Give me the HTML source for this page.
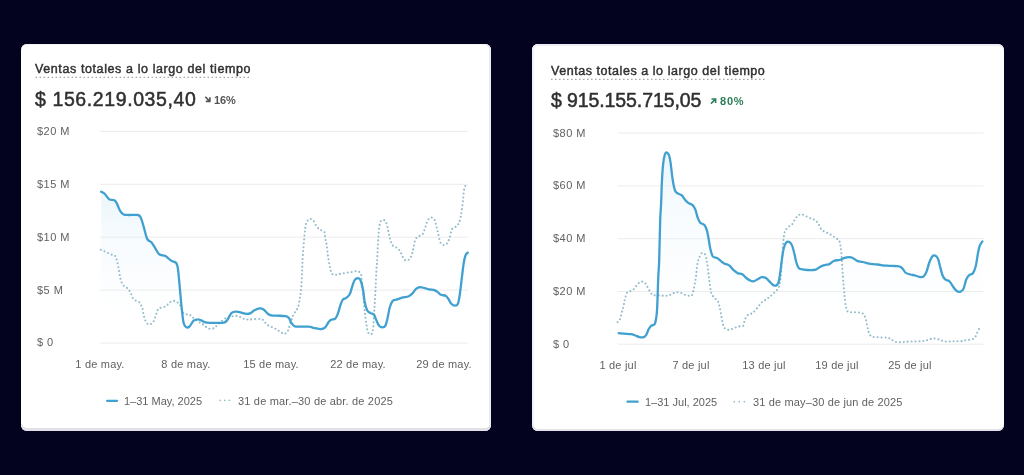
<!DOCTYPE html>
<html><head><meta charset="utf-8">
<style>
html,body{margin:0;padding:0;}
body{width:1024px;height:475px;overflow:hidden;background:#04031f;position:relative;font-family:"Liberation Sans",sans-serif;}
.card{position:absolute;background:#ffffff;border-radius:6px;}
.t{position:absolute;white-space:nowrap;will-change:transform;}
.ov{position:absolute;left:0;top:0;}
#wrap{position:absolute;left:0;top:0;width:1024px;height:475px;background:#04031f;}
</style></head><body>
<div id="wrap">
<div class="card" style="left:20.5px;top:43.8px;width:470.3px;height:387.2px;box-shadow:inset 0 -3px 0 #e1e1e7, inset -2px 0 0 #ebebf1, inset 0 1px 0 #f3f3f7;"></div>
<div class="card" style="left:532px;top:43.8px;width:471.5px;height:387.2px;box-shadow:inset 0 -2px 0 #e3e3e9, inset 2px 0 0 #f0f0f5, inset 0 2px 0 #ededf3;"></div>
<svg class="ov" width="1024" height="475" viewBox="0 0 1024 475">
<defs>
<linearGradient id="g1" x1="0" y1="0" x2="0" y2="1"><stop offset="0" stop-color="#e6f3fb" stop-opacity="0.75"/><stop offset="1" stop-color="#ffffff" stop-opacity="0"/></linearGradient>
<linearGradient id="g2" x1="0" y1="0" x2="0" y2="1"><stop offset="0" stop-color="#e6f3fb" stop-opacity="0.75"/><stop offset="1" stop-color="#ffffff" stop-opacity="0"/></linearGradient>
</defs>
<!-- dotted underlines -->
<line x1="35.5" y1="77.4" x2="251" y2="77.4" stroke="#a8a8a8" stroke-width="1.3" stroke-dasharray="1.6 2.4"/>
<line x1="551" y1="79.4" x2="766" y2="79.4" stroke="#a8a8a8" stroke-width="1.3" stroke-dasharray="1.6 2.4"/>
<!-- trend arrows -->
<path d="M205.3,96.8 L209.6,101.1 M209.9,97.3 L209.9,101.4 L205.8,101.4" fill="none" stroke="#555555" stroke-width="1.6"/>
<path d="M711.0,103.6 L715.3,99.3 M711.5,99.0 L715.6,99.0 L715.6,103.1" fill="none" stroke="#2d7d5a" stroke-width="1.6"/>
<path d="M101.2,191.7 C101.8,192.1 103.8,193.0 105.1,194.3 C106.4,195.6 107.8,198.4 109.3,199.4 C110.8,200.4 113.1,199.5 114.4,200.2 C115.7,200.9 115.9,201.8 116.9,203.6 C117.9,205.4 119.2,209.4 120.3,211.2 C121.4,213.0 122.2,213.9 123.6,214.5 C125.0,215.1 126.4,214.9 128.7,215.0 C130.9,215.1 135.1,214.6 137.1,214.9 C139.1,215.2 139.4,214.9 140.5,217.0 C141.6,219.1 142.7,223.5 143.8,227.2 C144.9,230.8 145.9,236.4 147.2,238.9 C148.5,241.4 150.1,240.9 151.4,242.3 C152.7,243.7 153.5,245.4 154.8,247.4 C156.1,249.4 157.3,252.7 159.0,254.1 C160.7,255.5 163.3,255.1 164.9,255.8 C166.5,256.5 167.3,257.5 168.4,258.4 C169.5,259.2 170.4,260.2 171.7,260.9 C172.9,261.6 174.9,261.6 175.9,262.6 C176.9,263.6 177.1,264.4 177.6,266.8 C178.1,269.2 178.4,272.7 178.8,276.9 C179.2,281.1 179.7,286.8 180.2,292.1 C180.7,297.4 181.2,303.8 181.8,308.9 C182.4,313.9 182.8,319.4 183.5,322.4 C184.2,325.4 185.1,326.4 186.1,327.1 C187.1,327.8 188.2,327.7 189.4,326.6 C190.7,325.5 192.2,321.9 193.6,320.7 C195.0,319.5 196.5,319.4 197.8,319.4 C199.1,319.3 199.9,319.9 201.2,320.4 C202.5,320.9 203.8,322.0 205.4,322.4 C207.0,322.8 208.8,322.8 210.5,322.9 C212.2,323.0 213.3,322.9 215.5,322.9 C217.7,322.9 221.7,323.1 223.6,322.7 C225.5,322.3 225.9,321.7 226.9,320.6 C227.9,319.5 228.7,317.3 229.5,316.0 C230.3,314.7 231.0,313.3 232.0,312.6 C233.0,311.9 234.1,311.7 235.4,311.6 C236.7,311.5 238.0,311.9 239.6,312.2 C241.2,312.5 243.3,313.5 245.1,313.7 C246.9,313.9 248.6,313.9 250.2,313.3 C251.8,312.7 252.9,311.1 254.4,310.3 C255.9,309.5 257.9,308.4 259.4,308.3 C260.9,308.2 262.2,308.6 263.6,309.5 C265.0,310.4 266.5,312.7 267.8,313.7 C269.1,314.7 269.6,315.1 271.2,315.4 C272.8,315.7 274.7,315.6 277.1,315.7 C279.5,315.8 283.5,315.8 285.5,316.2 C287.5,316.6 287.9,316.8 288.9,317.9 C289.9,319.0 290.4,321.5 291.4,322.9 C292.4,324.3 293.0,325.7 294.8,326.3 C296.6,326.9 300.0,326.6 302.4,326.7 C304.8,326.8 307.0,326.4 309.1,326.7 C311.2,326.9 313.1,327.8 315.1,328.2 C317.1,328.6 319.2,329.2 320.9,329.1 C322.6,329.0 323.9,328.5 325.2,327.4 C326.5,326.3 327.5,323.6 328.5,322.3 C329.5,321.0 330.0,320.4 331.1,319.8 C332.2,319.2 334.2,319.6 335.3,318.6 C336.4,317.6 337.0,316.1 337.8,313.9 C338.6,311.7 339.5,307.9 340.3,305.5 C341.1,303.1 341.8,300.9 342.8,299.6 C343.8,298.3 345.1,298.8 346.2,297.9 C347.3,297.0 348.6,296.3 349.6,294.5 C350.6,292.7 351.3,289.3 352.1,286.9 C352.9,284.5 353.6,281.6 354.6,280.2 C355.6,278.8 357.0,278.2 358.0,278.2 C359.0,278.2 359.6,278.2 360.5,280.2 C361.4,282.2 362.4,286.6 363.1,290.3 C363.8,294.0 364.0,298.7 364.7,302.1 C365.4,305.5 366.3,308.7 367.3,310.5 C368.3,312.3 369.5,312.4 370.6,313.1 C371.7,313.8 373.0,313.4 374.0,314.7 C375.0,315.9 375.6,318.8 376.5,320.6 C377.4,322.4 378.1,324.6 379.1,325.7 C380.1,326.8 381.3,327.4 382.4,327.4 C383.4,327.4 384.5,327.3 385.4,325.6 C386.3,323.9 387.1,320.0 387.8,317.0 C388.5,314.0 388.9,310.2 389.7,307.5 C390.5,304.8 391.5,302.2 392.6,300.9 C393.7,299.6 394.8,300.1 396.4,299.6 C398.0,299.1 400.1,298.3 402.1,297.7 C404.2,297.1 407.0,296.9 408.7,296.2 C410.4,295.5 411.2,294.6 412.5,293.3 C413.8,292.0 415.0,289.6 416.3,288.6 C417.6,287.6 418.7,287.2 420.1,287.1 C421.5,287.0 423.2,287.8 424.8,288.2 C426.4,288.6 427.9,289.2 429.5,289.5 C431.1,289.8 432.9,289.6 434.3,290.1 C435.7,290.6 437.0,291.6 438.1,292.4 C439.2,293.2 439.6,294.2 440.9,294.8 C442.1,295.4 444.3,295.1 445.6,295.8 C446.9,296.5 447.6,297.7 448.5,299.0 C449.4,300.3 450.2,302.6 451.3,303.7 C452.4,304.8 454.0,305.6 455.1,305.6 C456.2,305.6 457.1,305.6 457.9,303.7 C458.7,301.8 459.2,298.4 459.8,294.3 C460.4,290.2 461.1,284.2 461.7,279.1 C462.3,274.0 463.0,267.8 463.6,263.9 C464.2,259.9 464.8,257.3 465.5,255.4 C466.2,253.5 467.4,253.1 467.8,252.6 L467.8,343.0 L101.2,343.0 Z" fill="url(#g1)"/>
<line x1="99.5" y1="131.4" x2="468.3" y2="131.4" stroke="#ececec" stroke-width="1"/>
<line x1="99.5" y1="184.3" x2="468.3" y2="184.3" stroke="#ececec" stroke-width="1"/>
<line x1="99.5" y1="237.2" x2="468.3" y2="237.2" stroke="#ececec" stroke-width="1"/>
<line x1="99.5" y1="290.1" x2="468.3" y2="290.1" stroke="#ececec" stroke-width="1"/>
<line x1="99.5" y1="343.0" x2="468.3" y2="343.0" stroke="#ececec" stroke-width="1"/>
<path d="M100.9,249.8 C101.6,250.1 103.4,250.7 105.1,251.5 C106.8,252.3 109.3,253.7 111.0,254.4 C112.7,255.2 114.2,255.0 115.2,256.0 C116.2,257.0 116.3,258.2 116.9,260.3 C117.5,262.4 118.0,265.8 118.6,268.7 C119.2,271.6 119.6,275.3 120.3,278.0 C121.0,280.7 121.7,283.0 122.8,284.7 C123.9,286.4 125.7,286.7 127.0,288.0 C128.3,289.3 129.4,290.6 130.4,292.3 C131.4,294.0 131.9,296.8 132.9,298.2 C133.9,299.6 135.1,300.1 136.3,300.9 C137.5,301.7 139.2,302.0 140.1,303.0 C141.0,304.0 141.2,305.5 141.7,306.7 C142.2,307.9 142.7,308.9 143.0,310.2 C143.3,311.5 143.1,313.1 143.4,314.4 C143.7,315.7 144.3,317.0 144.7,318.2 C145.1,319.4 145.2,320.8 145.9,321.8 C146.6,322.9 147.8,324.3 148.9,324.5 C150.0,324.7 151.8,323.7 152.7,322.8 C153.6,321.9 153.9,320.6 154.4,319.3 C154.9,318.1 155.5,316.6 155.9,315.3 C156.3,314.0 156.6,312.9 157.1,311.7 C157.6,310.5 158.0,309.1 159.0,308.4 C160.0,307.7 161.9,307.8 163.2,307.3 C164.5,306.8 165.5,306.4 166.6,305.6 C167.7,304.8 168.4,303.4 169.5,302.6 C170.6,301.8 172.1,301.0 173.4,300.9 C174.7,300.8 176.0,301.4 177.1,302.2 C178.2,303.0 179.1,303.8 180.2,305.6 C181.3,307.4 182.2,311.7 183.5,313.2 C184.8,314.7 186.4,314.1 187.7,314.5 C189.0,314.9 190.0,314.9 191.1,315.7 C192.2,316.5 193.1,318.0 194.5,319.1 C195.9,320.2 198.1,321.5 199.5,322.4 C200.9,323.3 201.8,323.6 202.9,324.4 C204.0,325.1 204.8,326.2 205.9,326.9 C207.0,327.6 208.4,328.6 209.7,328.8 C211.0,329.0 212.7,328.7 213.9,328.2 C215.1,327.7 215.6,326.8 216.8,325.7 C218.0,324.6 219.5,322.8 221.0,321.5 C222.5,320.2 224.5,318.8 226.0,318.0 C227.5,317.2 228.7,316.8 230.0,316.5 C231.3,316.2 232.8,316.3 234.1,316.2 C235.4,316.1 236.6,315.7 237.9,316.0 C239.2,316.3 240.4,317.2 241.7,317.8 C243.0,318.4 244.2,319.1 245.5,319.4 C246.8,319.7 247.9,319.5 249.2,319.5 C250.5,319.5 251.7,319.3 253.5,319.2 C255.3,319.1 258.6,318.9 260.3,319.1 C262.0,319.3 262.5,319.5 263.6,320.4 C264.7,321.3 265.6,323.5 267.0,324.6 C268.4,325.7 270.4,326.4 272.1,327.2 C273.8,328.0 275.6,328.8 277.1,329.7 C278.6,330.6 280.0,331.8 281.3,332.5 C282.6,333.2 283.6,334.2 284.7,333.9 C285.8,333.6 287.3,331.9 288.1,330.5 C288.9,329.1 289.1,327.2 289.7,325.5 C290.2,323.8 290.8,322.1 291.4,320.4 C292.0,318.7 292.4,316.9 293.1,315.4 C293.8,313.9 294.8,312.6 295.6,311.2 C296.5,309.8 297.5,309.0 298.2,306.9 C298.9,304.8 299.3,301.3 299.8,298.5 C300.3,295.7 300.6,294.5 301.0,290.1 C301.4,285.8 301.8,277.6 302.1,272.4 C302.4,267.2 302.4,263.1 302.6,258.9 C302.8,254.7 303.2,250.8 303.5,247.1 C303.8,243.4 304.0,240.1 304.3,237.0 C304.6,233.9 304.8,231.1 305.2,228.6 C305.6,226.1 306.0,223.4 306.8,221.8 C307.6,220.2 308.8,218.9 309.9,218.8 C311.0,218.7 312.4,219.7 313.6,221.0 C314.8,222.3 315.6,225.3 316.9,226.9 C318.2,228.5 319.9,229.4 321.2,230.3 C322.5,231.2 323.8,230.9 324.5,232.3 C325.2,233.7 325.0,236.5 325.4,238.7 C325.8,240.9 326.3,242.6 326.7,245.4 C327.1,248.2 327.4,252.1 327.9,255.5 C328.4,258.9 329.0,262.8 329.6,265.6 C330.2,268.4 330.6,270.8 331.3,272.4 C332.0,273.9 332.6,274.6 333.8,274.9 C335.1,275.2 336.8,274.4 338.8,274.1 C340.8,273.8 343.4,273.2 345.6,272.9 C347.9,272.5 350.3,272.3 352.3,272.0 C354.3,271.7 356.0,271.0 357.4,271.2 C358.8,271.4 360.0,272.3 360.7,273.2 C361.4,274.1 361.0,273.4 361.4,276.8 C361.8,280.2 362.6,288.1 363.1,293.7 C363.7,299.3 364.1,305.4 364.7,310.5 C365.2,315.6 365.8,320.4 366.4,324.0 C367.0,327.6 367.2,330.7 368.1,332.4 C369.0,334.1 370.6,334.9 371.5,334.1 C372.4,333.3 372.8,330.5 373.2,327.4 C373.6,324.3 373.7,319.8 374.0,315.6 C374.3,311.4 374.5,307.2 374.8,302.1 C375.1,297.1 375.4,290.9 375.7,285.3 C376.0,279.7 376.3,272.2 376.5,268.4 C376.7,264.6 376.9,265.3 377.1,262.3 C377.3,259.3 377.4,254.7 377.6,250.5 C377.8,246.3 378.1,240.9 378.4,237.0 C378.7,233.1 378.9,229.6 379.3,226.9 C379.7,224.2 380.1,222.1 380.9,221.0 C381.7,219.9 383.3,219.6 384.3,220.2 C385.3,220.8 386.1,222.4 386.8,224.4 C387.5,226.4 387.9,229.5 388.5,232.0 C389.1,234.5 389.5,237.3 390.2,239.6 C390.9,241.8 391.6,244.1 392.7,245.5 C393.8,246.9 395.6,247.0 396.9,248.0 C398.2,249.0 399.3,249.8 400.3,251.4 C401.3,253.0 401.8,255.8 402.8,257.3 C403.8,258.8 404.9,260.5 406.2,260.6 C407.5,260.7 409.3,259.8 410.4,258.1 C411.5,256.4 412.1,253.5 412.9,250.5 C413.7,247.5 414.3,242.2 415.2,239.9 C416.1,237.6 417.2,237.5 418.5,236.5 C419.8,235.5 421.6,235.5 422.7,234.0 C423.8,232.5 424.4,229.6 425.3,227.3 C426.2,225.0 426.8,221.8 427.8,220.2 C428.8,218.6 430.1,217.6 431.2,217.5 C432.3,217.4 433.7,218.3 434.5,219.7 C435.3,221.0 435.6,223.5 436.2,225.6 C436.8,227.7 437.2,229.5 437.9,232.3 C438.6,235.1 439.4,240.3 440.4,242.4 C441.4,244.5 442.7,244.8 443.8,245.0 C444.9,245.2 446.2,244.6 447.2,243.3 C448.2,242.0 448.9,239.8 449.7,237.4 C450.5,235.0 451.1,230.7 452.2,228.9 C453.3,227.1 455.3,227.4 456.4,226.4 C457.5,225.4 458.2,224.6 458.9,223.1 C459.6,221.6 460.1,219.6 460.6,217.2 C461.1,214.8 461.6,211.8 462.0,208.7 C462.4,205.6 462.9,201.7 463.2,198.6 C463.5,195.5 463.6,192.3 464.0,190.2 C464.4,188.1 464.8,187.1 465.3,186.0 C465.8,184.9 466.7,183.9 467.0,183.5" fill="none" stroke="#93bccb" stroke-width="2.1" stroke-linecap="round" stroke-dasharray="0 3.9"/>
<path d="M101.2,191.7 C101.8,192.1 103.8,193.0 105.1,194.3 C106.4,195.6 107.8,198.4 109.3,199.4 C110.8,200.4 113.1,199.5 114.4,200.2 C115.7,200.9 115.9,201.8 116.9,203.6 C117.9,205.4 119.2,209.4 120.3,211.2 C121.4,213.0 122.2,213.9 123.6,214.5 C125.0,215.1 126.4,214.9 128.7,215.0 C130.9,215.1 135.1,214.6 137.1,214.9 C139.1,215.2 139.4,214.9 140.5,217.0 C141.6,219.1 142.7,223.5 143.8,227.2 C144.9,230.8 145.9,236.4 147.2,238.9 C148.5,241.4 150.1,240.9 151.4,242.3 C152.7,243.7 153.5,245.4 154.8,247.4 C156.1,249.4 157.3,252.7 159.0,254.1 C160.7,255.5 163.3,255.1 164.9,255.8 C166.5,256.5 167.3,257.5 168.4,258.4 C169.5,259.2 170.4,260.2 171.7,260.9 C172.9,261.6 174.9,261.6 175.9,262.6 C176.9,263.6 177.1,264.4 177.6,266.8 C178.1,269.2 178.4,272.7 178.8,276.9 C179.2,281.1 179.7,286.8 180.2,292.1 C180.7,297.4 181.2,303.8 181.8,308.9 C182.4,313.9 182.8,319.4 183.5,322.4 C184.2,325.4 185.1,326.4 186.1,327.1 C187.1,327.8 188.2,327.7 189.4,326.6 C190.7,325.5 192.2,321.9 193.6,320.7 C195.0,319.5 196.5,319.4 197.8,319.4 C199.1,319.3 199.9,319.9 201.2,320.4 C202.5,320.9 203.8,322.0 205.4,322.4 C207.0,322.8 208.8,322.8 210.5,322.9 C212.2,323.0 213.3,322.9 215.5,322.9 C217.7,322.9 221.7,323.1 223.6,322.7 C225.5,322.3 225.9,321.7 226.9,320.6 C227.9,319.5 228.7,317.3 229.5,316.0 C230.3,314.7 231.0,313.3 232.0,312.6 C233.0,311.9 234.1,311.7 235.4,311.6 C236.7,311.5 238.0,311.9 239.6,312.2 C241.2,312.5 243.3,313.5 245.1,313.7 C246.9,313.9 248.6,313.9 250.2,313.3 C251.8,312.7 252.9,311.1 254.4,310.3 C255.9,309.5 257.9,308.4 259.4,308.3 C260.9,308.2 262.2,308.6 263.6,309.5 C265.0,310.4 266.5,312.7 267.8,313.7 C269.1,314.7 269.6,315.1 271.2,315.4 C272.8,315.7 274.7,315.6 277.1,315.7 C279.5,315.8 283.5,315.8 285.5,316.2 C287.5,316.6 287.9,316.8 288.9,317.9 C289.9,319.0 290.4,321.5 291.4,322.9 C292.4,324.3 293.0,325.7 294.8,326.3 C296.6,326.9 300.0,326.6 302.4,326.7 C304.8,326.8 307.0,326.4 309.1,326.7 C311.2,326.9 313.1,327.8 315.1,328.2 C317.1,328.6 319.2,329.2 320.9,329.1 C322.6,329.0 323.9,328.5 325.2,327.4 C326.5,326.3 327.5,323.6 328.5,322.3 C329.5,321.0 330.0,320.4 331.1,319.8 C332.2,319.2 334.2,319.6 335.3,318.6 C336.4,317.6 337.0,316.1 337.8,313.9 C338.6,311.7 339.5,307.9 340.3,305.5 C341.1,303.1 341.8,300.9 342.8,299.6 C343.8,298.3 345.1,298.8 346.2,297.9 C347.3,297.0 348.6,296.3 349.6,294.5 C350.6,292.7 351.3,289.3 352.1,286.9 C352.9,284.5 353.6,281.6 354.6,280.2 C355.6,278.8 357.0,278.2 358.0,278.2 C359.0,278.2 359.6,278.2 360.5,280.2 C361.4,282.2 362.4,286.6 363.1,290.3 C363.8,294.0 364.0,298.7 364.7,302.1 C365.4,305.5 366.3,308.7 367.3,310.5 C368.3,312.3 369.5,312.4 370.6,313.1 C371.7,313.8 373.0,313.4 374.0,314.7 C375.0,315.9 375.6,318.8 376.5,320.6 C377.4,322.4 378.1,324.6 379.1,325.7 C380.1,326.8 381.3,327.4 382.4,327.4 C383.4,327.4 384.5,327.3 385.4,325.6 C386.3,323.9 387.1,320.0 387.8,317.0 C388.5,314.0 388.9,310.2 389.7,307.5 C390.5,304.8 391.5,302.2 392.6,300.9 C393.7,299.6 394.8,300.1 396.4,299.6 C398.0,299.1 400.1,298.3 402.1,297.7 C404.2,297.1 407.0,296.9 408.7,296.2 C410.4,295.5 411.2,294.6 412.5,293.3 C413.8,292.0 415.0,289.6 416.3,288.6 C417.6,287.6 418.7,287.2 420.1,287.1 C421.5,287.0 423.2,287.8 424.8,288.2 C426.4,288.6 427.9,289.2 429.5,289.5 C431.1,289.8 432.9,289.6 434.3,290.1 C435.7,290.6 437.0,291.6 438.1,292.4 C439.2,293.2 439.6,294.2 440.9,294.8 C442.1,295.4 444.3,295.1 445.6,295.8 C446.9,296.5 447.6,297.7 448.5,299.0 C449.4,300.3 450.2,302.6 451.3,303.7 C452.4,304.8 454.0,305.6 455.1,305.6 C456.2,305.6 457.1,305.6 457.9,303.7 C458.7,301.8 459.2,298.4 459.8,294.3 C460.4,290.2 461.1,284.2 461.7,279.1 C462.3,274.0 463.0,267.8 463.6,263.9 C464.2,259.9 464.8,257.3 465.5,255.4 C466.2,253.5 467.4,253.1 467.8,252.6" fill="none" stroke="#40a0cf" stroke-width="2.3" stroke-linejoin="round" stroke-linecap="round"/>
<path d="M618.7,333.1 C619.5,333.2 621.4,333.4 623.5,333.6 C625.6,333.8 629.1,333.8 631.1,334.1 C633.1,334.4 633.9,335.0 635.3,335.5 C636.7,336.0 638.1,336.8 639.5,337.1 C640.9,337.4 642.6,337.5 643.7,337.1 C644.8,336.8 645.4,336.3 646.2,335.0 C647.0,333.7 647.9,330.7 648.7,329.1 C649.6,327.6 650.3,326.5 651.3,325.7 C652.3,324.9 653.8,325.7 654.6,324.3 C655.4,322.9 655.9,320.2 656.3,317.3 C656.7,314.4 657.0,311.1 657.2,307.2 C657.4,303.3 657.5,298.8 657.7,293.7 C657.9,288.6 658.0,282.4 658.3,276.8 C658.5,271.2 658.9,269.5 659.2,260.0 C659.5,250.5 659.9,229.3 660.2,220.0 C660.5,210.7 660.8,210.3 661.1,204.0 C661.4,197.7 661.5,188.8 661.9,182.1 C662.2,175.4 662.7,168.2 663.2,163.6 C663.7,159.0 664.3,156.2 664.9,154.3 C665.5,152.4 665.9,152.2 666.6,152.4 C667.3,152.6 668.3,153.3 669.0,155.2 C669.7,157.1 670.2,159.9 670.7,163.6 C671.2,167.2 671.8,173.4 672.3,177.1 C672.8,180.8 673.2,183.1 673.7,185.5 C674.2,187.9 674.6,190.0 675.4,191.4 C676.2,192.8 677.6,193.2 678.7,193.9 C679.8,194.6 681.0,194.5 682.1,195.6 C683.2,196.7 684.4,199.1 685.5,200.3 C686.6,201.6 687.4,202.3 688.6,203.1 C689.8,203.9 691.5,204.0 692.6,205.1 C693.7,206.2 694.5,207.5 695.4,209.6 C696.2,211.7 696.9,215.5 697.7,217.7 C698.5,219.9 699.1,221.5 700.2,222.7 C701.3,223.9 703.3,223.6 704.4,224.9 C705.5,226.2 706.2,228.0 706.9,230.3 C707.6,232.6 708.0,235.6 708.6,238.7 C709.2,241.8 709.6,245.9 710.3,248.8 C711.0,251.8 711.7,254.8 712.8,256.4 C713.9,257.9 715.8,257.4 717.1,258.1 C718.4,258.8 719.2,259.7 720.4,260.6 C721.6,261.5 722.7,262.7 724.2,263.5 C725.7,264.3 727.6,264.2 729.2,265.4 C730.8,266.5 732.4,269.1 733.9,270.4 C735.4,271.7 736.7,272.8 738.1,273.4 C739.5,274.0 740.9,273.4 742.3,274.2 C743.7,275.0 745.0,276.9 746.3,278.0 C747.6,279.1 748.8,279.9 750.0,280.5 C751.2,281.1 752.1,281.6 753.4,281.4 C754.7,281.2 756.2,279.9 757.6,279.2 C759.0,278.5 760.4,277.4 761.8,277.2 C763.2,277.0 764.7,277.3 766.0,278.0 C767.3,278.7 768.3,280.3 769.4,281.4 C770.5,282.5 771.6,284.0 772.7,284.7 C773.8,285.4 775.1,286.0 776.1,285.6 C777.1,285.2 777.9,284.4 778.6,282.2 C779.3,279.9 779.7,276.0 780.3,272.1 C780.9,268.2 781.4,262.5 782.0,258.6 C782.6,254.7 783.0,251.2 783.7,248.5 C784.4,245.8 785.2,243.7 786.2,242.6 C787.2,241.5 788.5,241.5 789.5,242.0 C790.5,242.5 791.2,243.6 792.0,245.4 C792.8,247.2 793.5,250.1 794.2,253.0 C795.0,255.9 795.7,260.4 796.5,263.0 C797.3,265.6 797.8,267.3 799.0,268.4 C800.2,269.5 802.0,269.3 803.9,269.6 C805.8,269.9 808.6,270.1 810.6,270.1 C812.6,270.1 814.3,270.1 815.7,269.6 C817.1,269.2 817.8,268.1 819.1,267.4 C820.4,266.7 821.9,265.9 823.5,265.4 C825.1,264.9 827.4,264.6 828.5,264.3 C829.6,264.0 829.0,264.3 830.0,263.7 C831.0,263.1 832.7,261.3 834.2,260.7 C835.8,260.1 837.8,260.4 839.3,260.0 C840.8,259.6 842.2,258.8 843.5,258.3 C844.8,257.9 845.5,257.5 846.8,257.3 C848.1,257.1 849.8,257.0 851.1,257.3 C852.4,257.6 853.3,258.4 854.4,259.0 C855.5,259.6 856.4,260.7 857.8,261.2 C859.2,261.7 861.1,261.6 862.8,262.0 C864.5,262.4 866.2,262.9 867.9,263.3 C869.6,263.7 871.2,264.0 872.9,264.2 C874.6,264.4 876.5,264.3 878.0,264.5 C879.5,264.7 880.7,265.2 882.2,265.4 C883.8,265.6 885.6,265.6 887.3,265.7 C889.0,265.8 890.6,265.8 892.3,265.9 C894.0,266.0 896.0,266.0 897.4,266.2 C898.8,266.4 899.7,266.5 900.7,267.1 C901.7,267.7 902.4,268.6 903.3,269.6 C904.1,270.6 904.6,272.1 905.8,272.9 C907.0,273.7 908.8,274.1 910.4,274.5 C912.0,274.9 913.6,275.1 915.2,275.5 C916.8,275.9 918.5,276.9 919.9,277.0 C921.3,277.1 922.6,277.3 923.7,276.4 C924.8,275.5 925.5,274.1 926.5,271.7 C927.5,269.3 928.4,264.7 929.4,262.2 C930.4,259.7 931.2,257.6 932.2,256.5 C933.2,255.4 934.2,255.3 935.1,255.6 C936.0,255.9 937.0,256.5 937.9,258.4 C938.8,260.3 939.4,264.0 940.2,266.9 C941.0,269.8 941.7,273.4 942.6,275.5 C943.5,277.6 944.3,278.6 945.5,279.6 C946.7,280.6 948.3,280.3 949.6,281.5 C950.9,282.7 951.9,285.2 953.1,286.8 C954.3,288.4 955.5,290.2 956.8,291.0 C958.0,291.8 959.5,292.0 960.6,291.6 C961.7,291.2 962.5,290.8 963.5,288.7 C964.5,286.6 965.3,281.6 966.3,279.3 C967.2,277.0 968.1,276.1 969.2,275.1 C970.3,274.1 971.8,274.7 972.9,273.2 C974.0,271.7 975.0,269.1 975.8,266.0 C976.6,262.9 977.1,257.9 977.7,254.6 C978.3,251.3 978.8,248.3 979.6,246.1 C980.4,243.9 981.9,242.2 982.4,241.4 L982.4,344.2 L618.7,344.2 Z" fill="url(#g2)"/>
<line x1="617.8" y1="133.1" x2="983.5" y2="133.1" stroke="#ececec" stroke-width="1"/>
<line x1="617.8" y1="185.9" x2="983.5" y2="185.9" stroke="#ececec" stroke-width="1"/>
<line x1="617.8" y1="238.7" x2="983.5" y2="238.7" stroke="#ececec" stroke-width="1"/>
<line x1="617.8" y1="291.5" x2="983.5" y2="291.5" stroke="#ececec" stroke-width="1"/>
<line x1="617.8" y1="344.2" x2="983.5" y2="344.2" stroke="#ececec" stroke-width="1"/>
<path d="M617.6,322.3 C618.0,321.7 619.4,320.6 620.1,318.9 C620.8,317.2 621.2,314.3 621.8,312.2 C622.4,310.1 623.0,308.4 623.5,306.3 C624.0,304.2 624.4,301.4 624.8,299.6 C625.2,297.8 625.5,296.7 626.0,295.4 C626.5,294.1 626.9,292.8 627.7,292.0 C628.6,291.2 630.0,291.4 631.1,290.8 C632.2,290.2 633.4,289.6 634.4,288.6 C635.4,287.6 636.0,286.0 637.0,284.9 C638.0,283.8 639.2,282.4 640.3,281.9 C641.3,281.4 642.3,281.5 643.3,281.9 C644.3,282.3 645.4,283.4 646.2,284.4 C647.0,285.4 647.2,286.5 647.9,287.8 C648.6,289.1 649.6,290.8 650.4,292.0 C651.2,293.2 651.5,294.4 652.9,295.0 C654.3,295.6 656.8,295.3 658.8,295.4 C660.8,295.5 663.0,295.7 664.7,295.7 C666.4,295.7 667.6,295.7 668.9,295.4 C670.2,295.1 671.0,294.2 672.3,293.7 C673.6,293.2 675.1,292.4 676.5,292.3 C677.9,292.2 679.4,292.4 680.7,292.8 C682.0,293.2 682.9,294.0 684.2,294.5 C685.5,295.0 687.1,295.6 688.4,295.7 C689.7,295.8 690.9,296.3 691.8,295.4 C692.6,294.5 693.0,292.3 693.5,290.3 C694.0,288.3 694.4,285.9 694.8,283.6 C695.2,281.4 695.7,279.3 696.0,276.8 C696.3,274.3 696.5,270.9 696.8,268.4 C697.1,265.9 697.3,263.9 697.7,262.0 C698.1,260.1 698.7,258.8 699.4,257.3 C700.1,255.8 700.9,253.5 701.9,253.1 C702.9,252.7 704.5,253.3 705.3,254.7 C706.1,256.1 706.4,258.8 706.9,261.7 C707.4,264.6 707.9,268.4 708.3,271.8 C708.7,275.2 709.0,278.4 709.5,281.9 C710.0,285.4 710.4,290.1 711.2,292.8 C712.0,295.5 713.4,296.5 714.5,297.9 C715.6,299.3 717.0,299.8 717.9,301.3 C718.8,302.9 719.0,304.8 719.6,307.2 C720.2,309.6 720.8,312.8 721.3,315.6 C721.8,318.4 722.3,321.9 722.9,324.0 C723.5,326.1 723.6,327.2 724.6,328.2 C725.6,329.2 727.2,329.9 728.8,329.9 C730.3,329.9 732.2,328.8 733.9,328.2 C735.6,327.6 737.3,326.9 738.9,326.5 C740.5,326.1 742.2,326.8 743.2,325.7 C744.2,324.6 744.0,321.6 744.8,319.8 C745.6,318.0 746.9,315.8 748.2,314.7 C749.5,313.6 751.0,314.1 752.4,313.1 C753.8,312.1 755.0,310.6 756.6,308.8 C758.2,307.0 760.1,304.0 761.8,302.4 C763.5,300.8 765.1,300.4 766.8,299.1 C768.5,297.8 770.1,296.5 771.9,294.8 C773.7,293.1 776.4,291.3 777.8,288.9 C779.2,286.5 779.6,285.3 780.3,280.5 C781.0,275.7 781.5,266.6 782.0,260.3 C782.5,254.1 782.8,247.4 783.2,243.0 C783.6,238.6 783.8,236.0 784.3,233.8 C784.8,231.6 785.1,230.9 786.0,229.6 C786.9,228.3 788.3,227.2 789.4,226.2 C790.5,225.2 791.7,225.0 792.7,223.7 C793.7,222.4 794.4,219.9 795.3,218.6 C796.1,217.3 797.0,216.8 797.8,216.1 C798.6,215.4 799.2,214.5 800.3,214.4 C801.4,214.3 803.1,214.7 804.5,215.3 C805.9,215.9 807.3,217.2 808.7,217.8 C810.1,218.4 811.6,218.4 812.9,219.0 C814.2,219.6 815.3,220.3 816.3,221.2 C817.3,222.1 817.9,223.1 818.8,224.5 C819.6,225.9 820.3,228.3 821.4,229.6 C822.5,230.9 824.2,231.3 825.6,232.1 C827.0,232.8 828.5,233.4 829.8,234.1 C831.1,234.8 832.1,235.6 833.2,236.3 C834.3,237.0 835.5,237.8 836.5,238.5 C837.5,239.2 838.4,239.2 839.1,240.5 C839.8,241.8 840.1,243.9 840.5,246.0 C840.9,248.1 841.0,250.3 841.3,253.0 C841.5,255.7 841.8,258.8 842.0,262.0 C842.2,265.2 842.4,268.5 842.6,272.1 C842.9,275.8 843.2,280.4 843.5,283.9 C843.8,287.4 844.1,290.6 844.3,293.0 C844.5,295.4 844.5,296.1 844.8,298.4 C845.1,300.7 845.5,304.6 846.0,306.8 C846.5,309.0 846.7,310.7 847.7,311.6 C848.7,312.5 850.2,312.1 851.9,312.2 C853.6,312.3 856.0,312.2 857.8,312.4 C859.6,312.6 861.5,312.7 862.8,313.6 C864.1,314.5 864.7,315.8 865.4,317.8 C866.1,319.8 866.5,323.0 867.1,325.4 C867.7,327.8 868.0,330.3 868.7,332.1 C869.4,333.9 870.0,335.5 871.3,336.3 C872.6,337.1 874.5,337.0 876.3,337.2 C878.1,337.4 880.2,337.4 882.2,337.5 C884.2,337.6 886.6,337.3 888.1,337.7 C889.6,338.1 890.2,339.0 891.5,339.7 C892.8,340.4 894.0,341.5 895.7,341.9 C897.4,342.3 900.1,342.3 901.9,342.3 C903.7,342.3 904.3,341.8 906.3,341.7 C908.3,341.6 911.3,341.6 913.9,341.5 C916.5,341.4 920.1,341.2 922.1,341.1 C924.1,341.0 924.6,341.0 925.9,340.7 C927.2,340.4 928.4,339.6 929.7,339.2 C931.0,338.8 932.1,338.4 933.5,338.4 C934.9,338.4 936.5,338.8 937.9,339.2 C939.3,339.6 940.4,340.3 941.7,340.7 C943.0,341.1 943.6,341.4 945.5,341.5 C947.4,341.6 950.4,341.4 953.1,341.3 C955.8,341.2 959.8,341.3 961.9,341.1 C964.0,340.9 964.4,340.4 965.7,340.2 C967.0,340.0 968.2,340.0 969.5,339.8 C970.8,339.6 972.2,339.5 973.3,338.9 C974.4,338.3 975.2,337.1 975.9,336.0 C976.6,334.9 976.8,333.5 977.4,332.2 C978.0,330.9 979.2,328.7 979.6,328.0" fill="none" stroke="#93bccb" stroke-width="2.1" stroke-linecap="round" stroke-dasharray="0 3.9"/>
<path d="M618.7,333.1 C619.5,333.2 621.4,333.4 623.5,333.6 C625.6,333.8 629.1,333.8 631.1,334.1 C633.1,334.4 633.9,335.0 635.3,335.5 C636.7,336.0 638.1,336.8 639.5,337.1 C640.9,337.4 642.6,337.5 643.7,337.1 C644.8,336.8 645.4,336.3 646.2,335.0 C647.0,333.7 647.9,330.7 648.7,329.1 C649.6,327.6 650.3,326.5 651.3,325.7 C652.3,324.9 653.8,325.7 654.6,324.3 C655.4,322.9 655.9,320.2 656.3,317.3 C656.7,314.4 657.0,311.1 657.2,307.2 C657.4,303.3 657.5,298.8 657.7,293.7 C657.9,288.6 658.0,282.4 658.3,276.8 C658.5,271.2 658.9,269.5 659.2,260.0 C659.5,250.5 659.9,229.3 660.2,220.0 C660.5,210.7 660.8,210.3 661.1,204.0 C661.4,197.7 661.5,188.8 661.9,182.1 C662.2,175.4 662.7,168.2 663.2,163.6 C663.7,159.0 664.3,156.2 664.9,154.3 C665.5,152.4 665.9,152.2 666.6,152.4 C667.3,152.6 668.3,153.3 669.0,155.2 C669.7,157.1 670.2,159.9 670.7,163.6 C671.2,167.2 671.8,173.4 672.3,177.1 C672.8,180.8 673.2,183.1 673.7,185.5 C674.2,187.9 674.6,190.0 675.4,191.4 C676.2,192.8 677.6,193.2 678.7,193.9 C679.8,194.6 681.0,194.5 682.1,195.6 C683.2,196.7 684.4,199.1 685.5,200.3 C686.6,201.6 687.4,202.3 688.6,203.1 C689.8,203.9 691.5,204.0 692.6,205.1 C693.7,206.2 694.5,207.5 695.4,209.6 C696.2,211.7 696.9,215.5 697.7,217.7 C698.5,219.9 699.1,221.5 700.2,222.7 C701.3,223.9 703.3,223.6 704.4,224.9 C705.5,226.2 706.2,228.0 706.9,230.3 C707.6,232.6 708.0,235.6 708.6,238.7 C709.2,241.8 709.6,245.9 710.3,248.8 C711.0,251.8 711.7,254.8 712.8,256.4 C713.9,257.9 715.8,257.4 717.1,258.1 C718.4,258.8 719.2,259.7 720.4,260.6 C721.6,261.5 722.7,262.7 724.2,263.5 C725.7,264.3 727.6,264.2 729.2,265.4 C730.8,266.5 732.4,269.1 733.9,270.4 C735.4,271.7 736.7,272.8 738.1,273.4 C739.5,274.0 740.9,273.4 742.3,274.2 C743.7,275.0 745.0,276.9 746.3,278.0 C747.6,279.1 748.8,279.9 750.0,280.5 C751.2,281.1 752.1,281.6 753.4,281.4 C754.7,281.2 756.2,279.9 757.6,279.2 C759.0,278.5 760.4,277.4 761.8,277.2 C763.2,277.0 764.7,277.3 766.0,278.0 C767.3,278.7 768.3,280.3 769.4,281.4 C770.5,282.5 771.6,284.0 772.7,284.7 C773.8,285.4 775.1,286.0 776.1,285.6 C777.1,285.2 777.9,284.4 778.6,282.2 C779.3,279.9 779.7,276.0 780.3,272.1 C780.9,268.2 781.4,262.5 782.0,258.6 C782.6,254.7 783.0,251.2 783.7,248.5 C784.4,245.8 785.2,243.7 786.2,242.6 C787.2,241.5 788.5,241.5 789.5,242.0 C790.5,242.5 791.2,243.6 792.0,245.4 C792.8,247.2 793.5,250.1 794.2,253.0 C795.0,255.9 795.7,260.4 796.5,263.0 C797.3,265.6 797.8,267.3 799.0,268.4 C800.2,269.5 802.0,269.3 803.9,269.6 C805.8,269.9 808.6,270.1 810.6,270.1 C812.6,270.1 814.3,270.1 815.7,269.6 C817.1,269.2 817.8,268.1 819.1,267.4 C820.4,266.7 821.9,265.9 823.5,265.4 C825.1,264.9 827.4,264.6 828.5,264.3 C829.6,264.0 829.0,264.3 830.0,263.7 C831.0,263.1 832.7,261.3 834.2,260.7 C835.8,260.1 837.8,260.4 839.3,260.0 C840.8,259.6 842.2,258.8 843.5,258.3 C844.8,257.9 845.5,257.5 846.8,257.3 C848.1,257.1 849.8,257.0 851.1,257.3 C852.4,257.6 853.3,258.4 854.4,259.0 C855.5,259.6 856.4,260.7 857.8,261.2 C859.2,261.7 861.1,261.6 862.8,262.0 C864.5,262.4 866.2,262.9 867.9,263.3 C869.6,263.7 871.2,264.0 872.9,264.2 C874.6,264.4 876.5,264.3 878.0,264.5 C879.5,264.7 880.7,265.2 882.2,265.4 C883.8,265.6 885.6,265.6 887.3,265.7 C889.0,265.8 890.6,265.8 892.3,265.9 C894.0,266.0 896.0,266.0 897.4,266.2 C898.8,266.4 899.7,266.5 900.7,267.1 C901.7,267.7 902.4,268.6 903.3,269.6 C904.1,270.6 904.6,272.1 905.8,272.9 C907.0,273.7 908.8,274.1 910.4,274.5 C912.0,274.9 913.6,275.1 915.2,275.5 C916.8,275.9 918.5,276.9 919.9,277.0 C921.3,277.1 922.6,277.3 923.7,276.4 C924.8,275.5 925.5,274.1 926.5,271.7 C927.5,269.3 928.4,264.7 929.4,262.2 C930.4,259.7 931.2,257.6 932.2,256.5 C933.2,255.4 934.2,255.3 935.1,255.6 C936.0,255.9 937.0,256.5 937.9,258.4 C938.8,260.3 939.4,264.0 940.2,266.9 C941.0,269.8 941.7,273.4 942.6,275.5 C943.5,277.6 944.3,278.6 945.5,279.6 C946.7,280.6 948.3,280.3 949.6,281.5 C950.9,282.7 951.9,285.2 953.1,286.8 C954.3,288.4 955.5,290.2 956.8,291.0 C958.0,291.8 959.5,292.0 960.6,291.6 C961.7,291.2 962.5,290.8 963.5,288.7 C964.5,286.6 965.3,281.6 966.3,279.3 C967.2,277.0 968.1,276.1 969.2,275.1 C970.3,274.1 971.8,274.7 972.9,273.2 C974.0,271.7 975.0,269.1 975.8,266.0 C976.6,262.9 977.1,257.9 977.7,254.6 C978.3,251.3 978.8,248.3 979.6,246.1 C980.4,243.9 981.9,242.2 982.4,241.4" fill="none" stroke="#40a0cf" stroke-width="2.3" stroke-linejoin="round" stroke-linecap="round"/>
<!-- legends -->
<line x1="107.1" y1="400.8" x2="117.1" y2="400.8" stroke="#40a0cf" stroke-width="2.3" stroke-linecap="round"/>
<line x1="220.2" y1="400.3" x2="230" y2="400.3" stroke="#93bccb" stroke-width="1.7" stroke-linecap="round" stroke-dasharray="0 4.6"/>
<line x1="627.5" y1="401.7" x2="637.7" y2="401.7" stroke="#40a0cf" stroke-width="2.3" stroke-linecap="round"/>
<line x1="734.3" y1="401.7" x2="745" y2="401.7" stroke="#93bccb" stroke-width="1.7" stroke-linecap="round" stroke-dasharray="0 5"/>
</svg>
<div class="t" style="left:36.8px;top:123.89px;font-size:11px;line-height:14px;font-weight:400;color:#616161;letter-spacing:0.45px;">$20 M</div><div class="t" style="left:36.8px;top:176.79px;font-size:11px;line-height:14px;font-weight:400;color:#616161;letter-spacing:0.45px;">$15 M</div><div class="t" style="left:36.8px;top:229.69px;font-size:11px;line-height:14px;font-weight:400;color:#616161;letter-spacing:0.45px;">$10 M</div><div class="t" style="left:36.8px;top:282.59px;font-size:11px;line-height:14px;font-weight:400;color:#616161;letter-spacing:0.45px;">$5 M</div><div class="t" style="left:36.8px;top:335.49px;font-size:11px;line-height:14px;font-weight:400;color:#616161;letter-spacing:0.45px;">$ 0</div><div class="t" style="left:-100.5px;width:400px;text-align:center;top:356.79px;font-size:11px;line-height:14px;font-weight:400;color:#616161;letter-spacing:0.2px;">1 de may.</div><div class="t" style="left:-14.300000000000011px;width:400px;text-align:center;top:356.79px;font-size:11px;line-height:14px;font-weight:400;color:#616161;letter-spacing:0.2px;">8 de may.</div><div class="t" style="left:71.39999999999998px;width:400px;text-align:center;top:356.79px;font-size:11px;line-height:14px;font-weight:400;color:#616161;letter-spacing:0.2px;">15 de may.</div><div class="t" style="left:157.60000000000002px;width:400px;text-align:center;top:356.79px;font-size:11px;line-height:14px;font-weight:400;color:#616161;letter-spacing:0.2px;">22 de may.</div><div class="t" style="left:243.60000000000002px;width:400px;text-align:center;top:356.79px;font-size:11px;line-height:14px;font-weight:400;color:#616161;letter-spacing:0.2px;">29 de may.</div><div class="t" style="left:552.6px;top:125.59px;font-size:11px;line-height:14px;font-weight:400;color:#616161;letter-spacing:0.45px;">$80 M</div><div class="t" style="left:552.6px;top:178.39px;font-size:11px;line-height:14px;font-weight:400;color:#616161;letter-spacing:0.45px;">$60 M</div><div class="t" style="left:552.6px;top:231.19px;font-size:11px;line-height:14px;font-weight:400;color:#616161;letter-spacing:0.45px;">$40 M</div><div class="t" style="left:552.6px;top:283.99px;font-size:11px;line-height:14px;font-weight:400;color:#616161;letter-spacing:0.45px;">$20 M</div><div class="t" style="left:552.6px;top:336.69px;font-size:11px;line-height:14px;font-weight:400;color:#616161;letter-spacing:0.45px;">$ 0</div><div class="t" style="left:417.6px;width:400px;text-align:center;top:357.59px;font-size:11px;line-height:14px;font-weight:400;color:#616161;letter-spacing:0.2px;">1 de jul</div><div class="t" style="left:490.5px;width:400px;text-align:center;top:357.59px;font-size:11px;line-height:14px;font-weight:400;color:#616161;letter-spacing:0.2px;">7 de jul</div><div class="t" style="left:563.7px;width:400px;text-align:center;top:357.59px;font-size:11px;line-height:14px;font-weight:400;color:#616161;letter-spacing:0.2px;">13 de jul</div><div class="t" style="left:636.8px;width:400px;text-align:center;top:357.59px;font-size:11px;line-height:14px;font-weight:400;color:#616161;letter-spacing:0.2px;">19 de jul</div><div class="t" style="left:710.2px;width:400px;text-align:center;top:357.59px;font-size:11px;line-height:14px;font-weight:400;color:#616161;letter-spacing:0.2px;">25 de jul</div><div class="t" style="left:35.2px;top:60.57px;font-size:12.5px;line-height:16px;font-weight:400;color:#303030;letter-spacing:0.6px;-webkit-text-stroke:0.45px #303030;">Ventas totales a lo largo del tiempo</div><div class="t" style="left:550.8px;top:63.27px;font-size:12.5px;line-height:16px;font-weight:400;color:#303030;letter-spacing:0.55px;-webkit-text-stroke:0.45px #303030;">Ventas totales a lo largo del tiempo</div><div class="t" style="left:35.3px;top:86.84px;font-size:19.5px;line-height:24px;font-weight:400;color:#303030;letter-spacing:0.6px;-webkit-text-stroke:0.5px #303030;">$ 156.219.035,40</div><div class="t" style="left:550.8px;top:87.94px;font-size:19.5px;line-height:24px;font-weight:400;color:#303030;letter-spacing:-0.1px;-webkit-text-stroke:0.5px #303030;">$ 915.155.715,05</div><div class="t" style="left:214.3px;top:92.89px;font-size:11px;line-height:14px;font-weight:700;color:#555555;letter-spacing:-0.1px;">16%</div><div class="t" style="left:720.0px;top:94.09px;font-size:11px;line-height:14px;font-weight:700;color:#2d7d5a;letter-spacing:0.8px;">80%</div><div class="t" style="left:124.0px;top:393.79px;font-size:11px;line-height:14px;font-weight:400;color:#616161;letter-spacing:0px;">1–31 May, 2025</div><div class="t" style="left:237.8px;top:393.79px;font-size:11px;line-height:14px;font-weight:400;color:#616161;letter-spacing:0.18px;">31 de mar.–30 de abr. de 2025</div><div class="t" style="left:644.6px;top:394.79px;font-size:11px;line-height:14px;font-weight:400;color:#616161;letter-spacing:0px;">1–31 Jul, 2025</div><div class="t" style="left:752.5px;top:394.79px;font-size:11px;line-height:14px;font-weight:400;color:#616161;letter-spacing:0.15px;">31 de may–30 de jun de 2025</div>
</div>
</body></html>
